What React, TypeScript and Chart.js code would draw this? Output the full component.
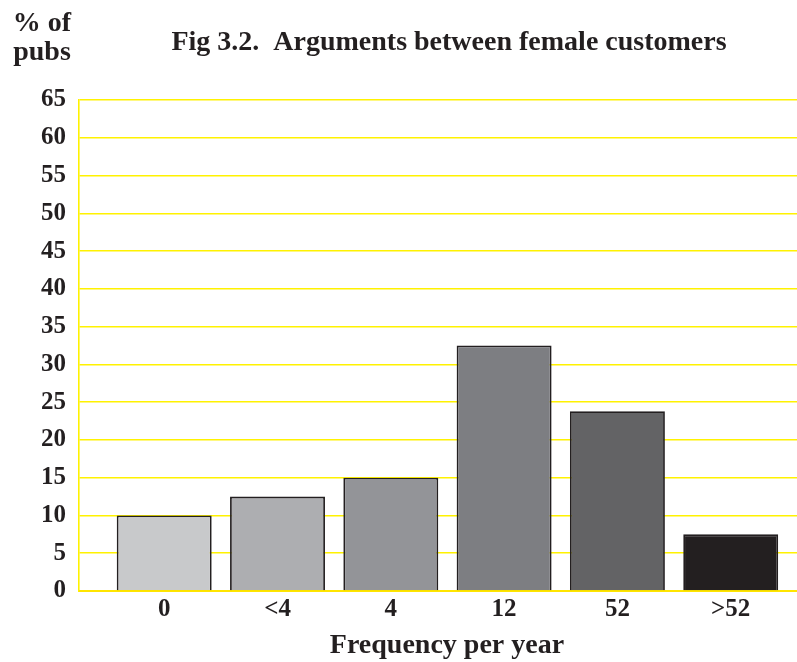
import React, { useEffect, useRef } from "react";
import { Chart, registerables } from "chart.js";

Chart.register(...registerables);

const categories = ["0", "<4", "4", "12", "52", ">52"];
const values = [10, 12.5, 15, 32.5, 23.8, 7.5];
const barColors = ["#c8c9cb", "#adaeb1", "#939498", "#7d7e82", "#636365", "#231f20"];
const yTicks = [0, 5, 10, 15, 20, 25, 30, 35, 40, 45, 50, 55, 60, 65];
const titleText = "Fig 3.2.  Arguments between female customers";
const yCaption = ["% of", "pubs"];
const xCaption = "Frequency per year";

const FONT = "'Liberation Serif', 'Times New Roman', serif";
const INK = "#231f20";
const YELLOW = "#fff200";

const captionPlugin = {
  id: "captions",
  afterDatasetsDraw(chart: any) {
    const { ctx, chartArea, scales } = chart;
    // baseline drawn over the bars
    const y0 = scales.y.getPixelForValue(0);
    ctx.save();
    ctx.globalCompositeOperation = "multiply";
    ctx.strokeStyle = YELLOW;
    ctx.lineWidth = 2;
    ctx.beginPath();
    ctx.moveTo(chartArea.left, y0);
    ctx.lineTo(chartArea.right, y0);
    ctx.stroke();
    ctx.restore();
  },
  afterDraw(chart: any) {
    const { ctx } = chart;
    ctx.save();
    ctx.fillStyle = INK;
    ctx.font = `bold 28px ${FONT}`;
    ctx.textBaseline = "alphabetic";
    ctx.textAlign = "center";
    ctx.fillText(titleText, 449, 50);
    ctx.fillText(yCaption[0], 42, 31);
    ctx.fillText(yCaption[1], 42, 60);
    ctx.fillText(xCaption, 447, 653);
    ctx.restore();
  },
};

export default function App() {
  const ref = useRef<HTMLCanvasElement | null>(null);
  useEffect(() => {
    if (!ref.current) return;
    const chart = new Chart(ref.current, {
      type: "bar",
      data: {
        datasets: [
          {
            data: values.map((v, i) => ({ x: i, y: v })),
            backgroundColor: barColors,
            borderColor: INK,
            borderWidth: 1.8,
            barPercentage: 0.838,
            categoryPercentage: 1,
          },
        ],
      },
      options: {
        animation: false,
        responsive: false,
        maintainAspectRatio: false,
        layout: { padding: { top: 100, left: 0, right: 0, bottom: 0 } },
        plugins: {
          legend: { display: false },
          title: { display: false },
          tooltip: { enabled: false },
        },
        scales: {
          x: {
            type: "linear",
            offset: false,
            min: -0.752,
            max: 5.585,
            grid: { display: false, drawTicks: false },
            border: { display: true, color: YELLOW, width: 2 },
            afterBuildTicks: (s: any) => {
              s.ticks = categories.map((_, i) => ({ value: i }));
            },
            afterFit: (s: any) => {
              s.height = 71;
            },
            ticks: {
              autoSkip: false,
              maxRotation: 0,
              padding: 4,
              color: INK,
              font: { family: FONT, size: 25, weight: "bold" },
              callback: (v: any) => categories[Number(v)] ?? "",
            },
          },
          y: {
            min: 0,
            max: 65,
            afterBuildTicks: (s: any) => {
              s.ticks = yTicks.map((v) => ({ value: v }));
            },
            afterFit: (s: any) => {
              s.width = 79;
            },
            grid: { color: YELLOW, lineWidth: 1.6, drawTicks: false },
            border: { display: true, color: YELLOW, width: 1.6 },
            ticks: {
              padding: 13,
              color: INK,
              font: { family: FONT, size: 25, weight: "bold" },
            },
          },
        },
      },
      plugins: [captionPlugin],
    } as any);
    return () => chart.destroy();
  }, []);
  return (
    <div style={{ position: "absolute", left: 0, top: 0, width: 797, height: 662, background: "#ffffff" }}>
      <canvas ref={ref} width={797} height={662} style={{ display: "block" }} />
    </div>
  );
}
